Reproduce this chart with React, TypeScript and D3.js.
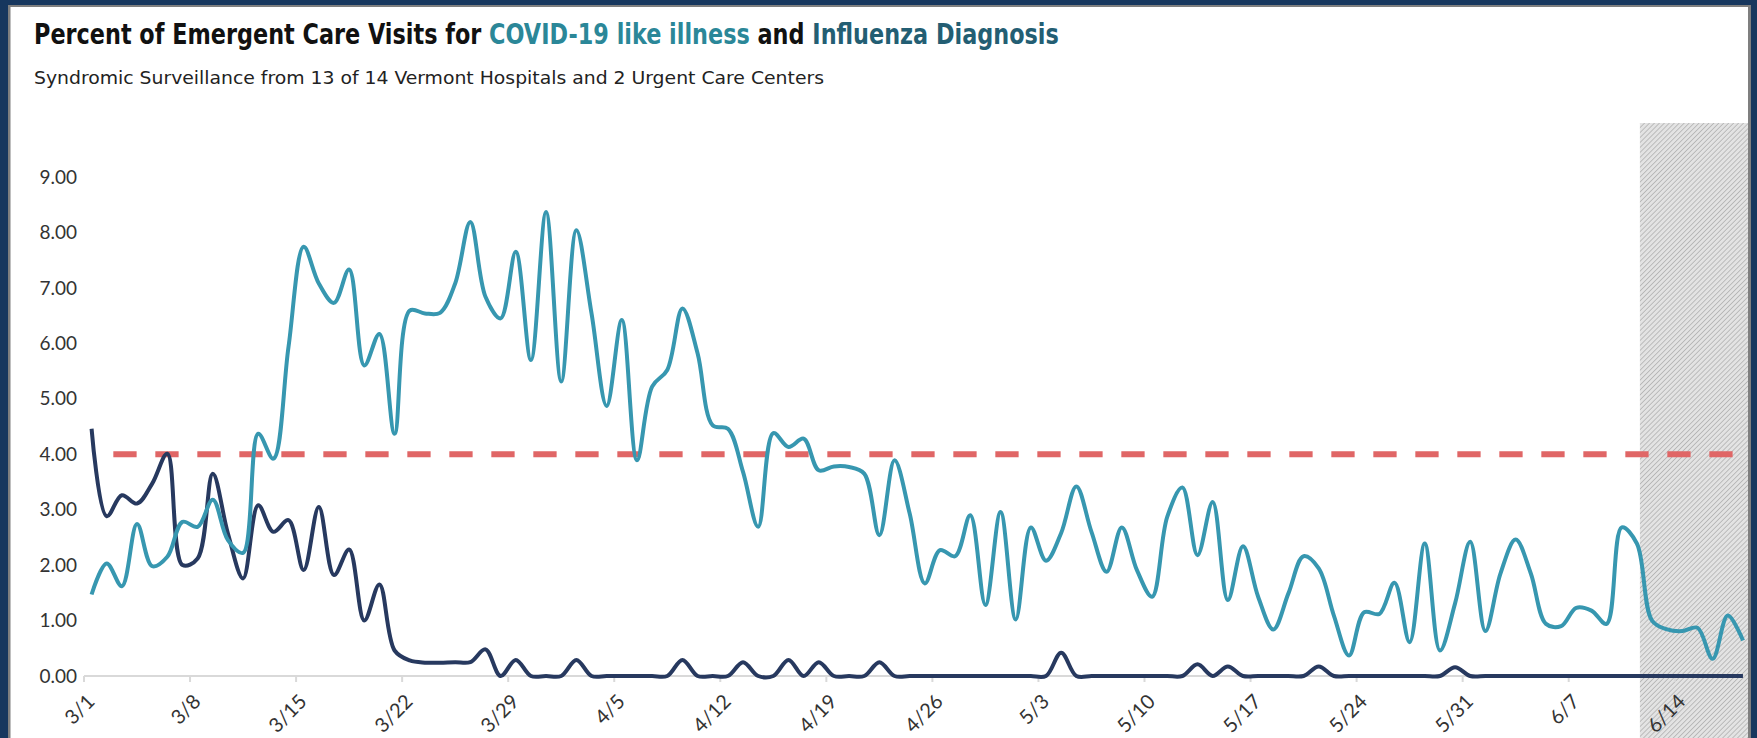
import React, { useLayoutEffect, useRef, useState } from "react"
import * as d3 from "d3"

const width = 1757
const height = 738

// daily percentages, 3/1 .. 6/18
const covidLike = [
  1.47, 2.03, 1.62, 2.74, 1.98, 2.15, 2.78, 2.69, 3.18, 2.45,
  2.22, 4.37, 3.92, 5.94, 7.74, 7.08, 6.73, 7.33, 5.6, 6.17,
  4.37, 6.59, 6.54, 6.55, 7.08, 8.19, 6.84, 6.45, 7.65, 5.7,
  8.37, 5.31, 8.04, 6.54, 4.87, 6.42, 3.89, 5.22, 5.52, 6.63,
  5.82, 4.52, 4.46, 3.68, 2.69, 4.38, 4.13, 4.28, 3.71, 3.78,
  3.77, 3.65, 2.54, 3.89, 2.93, 1.67, 2.27, 2.16, 2.9, 1.28,
  2.96, 1.02, 2.68, 2.08, 2.58, 3.42, 2.6, 1.88, 2.68, 1.91,
  1.43, 2.87, 3.4, 2.18, 3.14, 1.37, 2.34, 1.43, 0.84, 1.49,
  2.16, 1.94, 1.09, 0.37, 1.15, 1.12, 1.68, 0.61, 2.39, 0.46,
  1.31, 2.42, 0.81, 1.85, 2.46, 1.85, 0.94, 0.9, 1.23, 1.18,
  0.94, 2.68, 2.39, 1.0, 0.84, 0.81, 0.87, 0.31, 1.09, 0.64,
]

const influenza = [
  4.46, 2.88, 3.26, 3.11, 3.47, 4.01, 2.0, 2.12, 3.65, 2.57,
  1.76, 3.08, 2.6, 2.81, 1.91, 3.05, 1.82, 2.28, 1.0, 1.65,
  0.46, 0.28, 0.24, 0.24, 0.25, 0.25, 0.48, 0, 0.29, 0,
  0, 0, 0.29, 0, 0, 0, 0, 0, 0, 0.29,
  0, 0, 0, 0.25, 0, 0, 0.29, 0, 0.25, 0,
  0, 0, 0.25, 0, 0, 0, 0, 0, 0, 0,
  0, 0, 0, 0, 0.42, 0, 0, 0, 0, 0,
  0, 0, 0, 0.21, 0, 0.17, 0, 0, 0, 0,
  0, 0.17, 0, 0, 0, 0, 0, 0, 0, 0,
  0.16, 0, 0, 0, 0, 0, 0, 0, 0, 0,
  0, 0, 0, 0, 0, 0, 0, 0, 0, 0,
]

const tickLabels = [
  "3/1", "3/8", "3/15", "3/22", "3/29", "4/5", "4/12", "4/19",
  "4/26", "5/3", "5/10", "5/17", "5/24", "5/31", "6/7", "6/14",
]
const yTicks = [0, 1, 2, 3, 4, 5, 6, 7, 8, 9]
const threshold = 4
const thresholdFrom = 1
const thresholdTo = 109
const partialFrom = 102.7 // last days, data still incomplete

const teal = "#3797b0"
const navy = "#27395f"
const red = "#e06666"
const axisGray = "#d9d9d9"
const labelFont = "Lato, 'Open Sans', sans-serif"
const titleFont = "'Liberation Sans Narrow', 'DejaVu Sans Condensed', Roboto, sans-serif"
const titleWidth = 1025

export default function App() {
  const titleRef = useRef<SVGTextElement>(null)
  const [titleScale, setTitleScale] = useState(1)

  useLayoutEffect(() => {
    if (!titleRef.current) return
    const w = titleRef.current.getComputedTextLength()
    if (w > 0) setTitleScale(titleWidth / w)
  }, [])

  const x = d3.scaleLinear().domain([0, 110]).range([84, 1750.5])
  const y = d3.scaleLinear().domain([0, 9]).range([676, 177])
  const px = (i: number) => x(i + 0.5)

  const line = d3
    .line<number>()
    .x((_, i) => px(i))
    .y(d => y(d))
    .curve(d3.curveCatmullRom.alpha(0.5))

  return (
    <svg width={width} height={height} style={{ display: "block", position: "absolute", left: 0, top: 0 }}>
      <defs>
        <pattern id="hatch" width="3.5" height="3.5" patternUnits="userSpaceOnUse" patternTransform="rotate(45)">
          <rect width="3.5" height="3.5" fill="#e3e3e3" />
          <line x1="0" y1="0" x2="0" y2="3.5" stroke="#a6a6a6" strokeWidth="1.3" />
        </pattern>
      </defs>
      <rect width={width} height={height} fill="#17375e" />
      <rect x={8} y={5} width={1743} height={height} fill="#7f7f7f" />
      <rect x={10.5} y={7} width={1737.5} height={height} fill="#ffffff" />

      <text ref={titleRef} transform={`translate(34, 44) scale(${titleScale}, 1)`}
        fontFamily={titleFont} fontWeight="bold" fontSize={29} fill="#111111">
        Percent of Emergent Care Visits for{" "}
        <tspan fill="#2b8798">COVID-19 like illness</tspan> and{" "}
        <tspan fill="#235e73">Influenza Diagnosis</tspan>
      </text>
      <text x={34} y={84} fontFamily={titleFont} fontSize={18} fill="#222"
        textLength={790} lengthAdjust="spacingAndGlyphs">
        Syndromic Surveillance from 13 of 14 Vermont Hospitals and 2 Urgent Care Centers
      </text>

      <rect x={x(partialFrom)} y={123} width={1748 - x(partialFrom)} height={height - 123} fill="url(#hatch)" />

      {yTicks.map(t => (
        <text key={t} x={77} y={y(t)} dy="0.35em" textAnchor="end" fontFamily={labelFont}
          fontSize={19} fill="#333">
          {t.toFixed(2)}
        </text>
      ))}

      <line x1={x(0)} x2={x(109.6)} y1={y(0)} y2={y(0)} stroke={axisGray} strokeWidth={2} />
      {tickLabels.map((lab, k) => (
        <g key={lab} transform={`translate(${x(k * 7)}, ${y(0)})`}>
          <line y1={0} y2={6} stroke={axisGray} strokeWidth={2} />
          <text transform="translate(2, 17) rotate(-45)" textAnchor="end" dy="0.7em"
            fontFamily={labelFont} fontSize={20} fill="#333">
            {lab}
          </text>
        </g>
      ))}

      <line x1={px(thresholdFrom)} x2={px(thresholdTo)} y1={y(threshold)} y2={y(threshold)}
        stroke={red} strokeWidth={6} strokeDasharray="23.3 18.7" strokeDashoffset={35.4} />

      <path d={line(influenza) ?? ""} fill="none" stroke={navy} strokeWidth={4} strokeLinejoin="round" />
      <path d={line(covidLike) ?? ""} fill="none" stroke={teal} strokeWidth={4} strokeLinejoin="round" />
    </svg>
  )
}
